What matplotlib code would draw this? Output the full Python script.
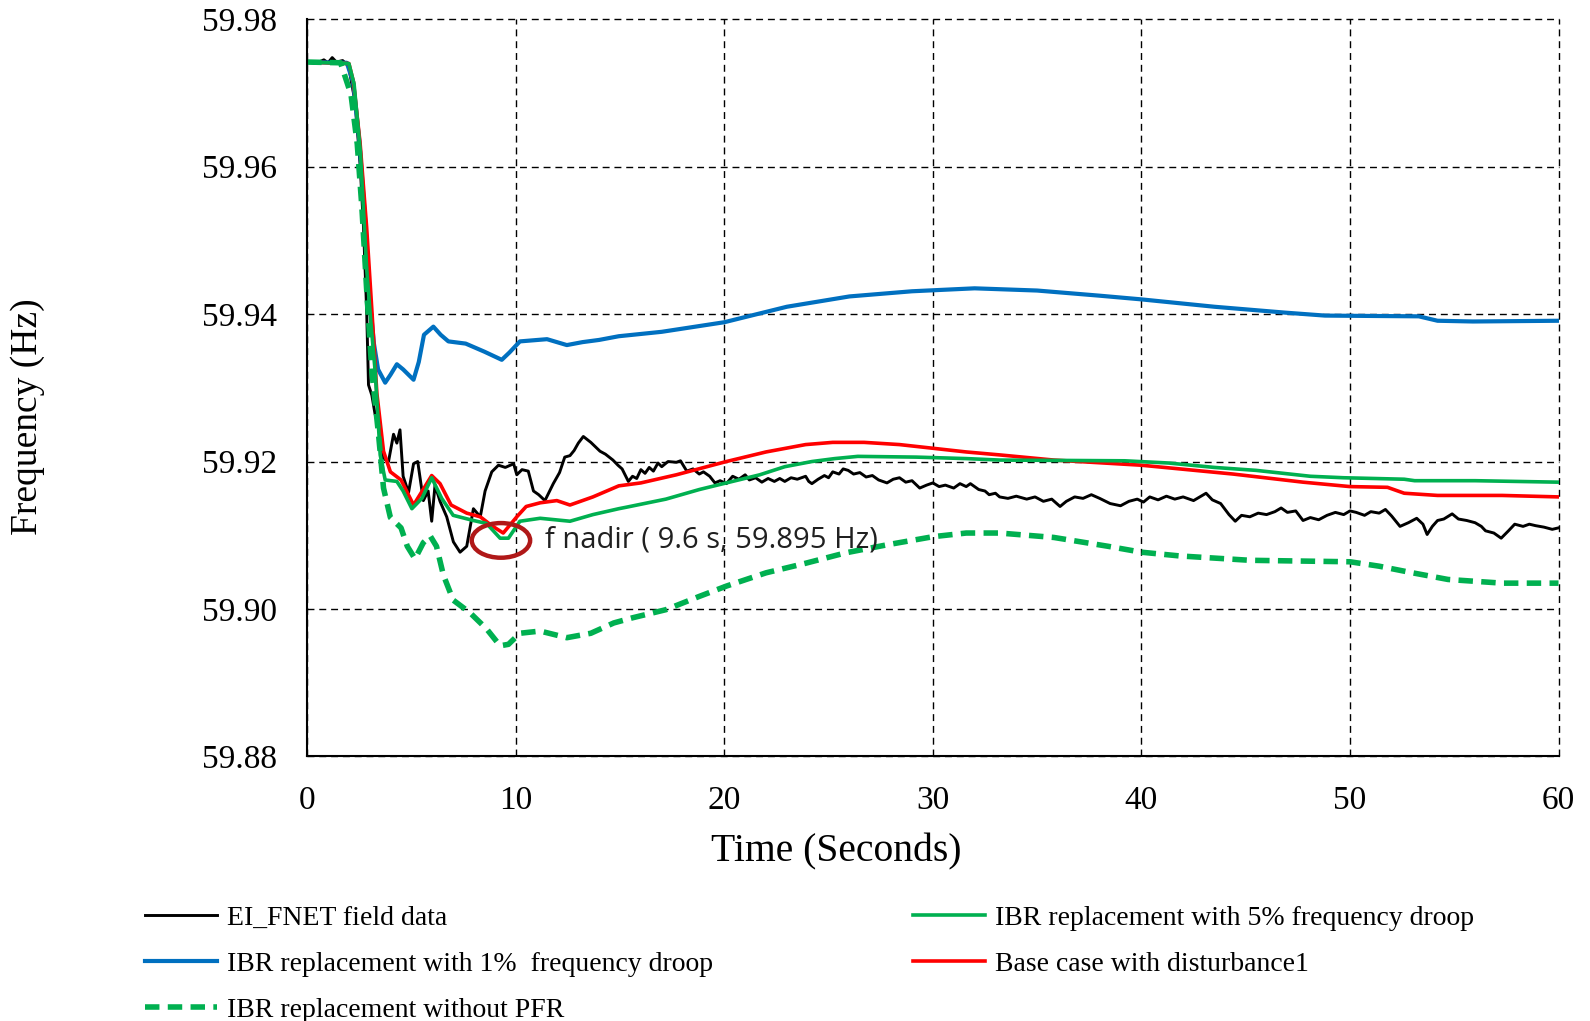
import matplotlib
matplotlib.use("Agg")
import matplotlib.pyplot as plt
from matplotlib.patches import Ellipse

# EI_FNET field data
t_fnet = [0, 0.4, 0.8, 1.0, 1.2, 1.4, 1.7, 1.98, 2.3, 2.54, 2.70, 2.85, 2.94, 3.1, 3.25,
          3.42, 3.66, 3.9, 4.14, 4.3, 4.45, 4.6, 4.86, 5.1, 5.3, 5.57, 5.8, 5.97, 6.13,
          6.37, 6.69, 7.01, 7.33, 7.65, 7.97, 8.3, 8.53, 8.85, 9.17, 9.5, 9.9, 10.05,
          10.3, 10.6, 10.85, 11.1, 11.4, 11.8, 12.1, 12.35, 12.6, 12.8, 13.0, 13.24, 13.6,
          14.04, 14.3, 14.66, 14.9, 15.1, 15.4, 15.6, 15.8, 16.0, 16.2, 16.4, 16.6, 16.82,
          17.0, 17.3, 17.7, 17.9, 18.2, 18.5, 18.8, 19.0, 19.3, 19.55, 19.8, 20.1, 20.4,
          20.7, 21.0, 21.2, 21.5, 21.8, 22.1, 22.4, 22.66, 22.9, 23.2, 23.5, 23.9, 24.05,
          24.2, 24.5, 24.8, 25.0, 25.2, 25.5, 25.7, 25.94, 26.2, 26.5, 26.8, 27.1, 27.4,
          27.8, 28.1, 28.4, 28.7, 29.0, 29.37, 29.7, 30.0, 30.3, 30.6, 31.0, 31.3, 31.6,
          31.8, 32.2, 32.5, 32.7, 33.0, 33.2, 33.6, 34.0, 34.5, 34.9, 35.3, 35.7, 36.1,
          36.4, 36.8, 37.2, 37.6, 38.0, 38.5, 39.0, 39.4, 39.8, 40.1, 40.4, 40.8, 41.2,
          41.6, 42.0, 42.5, 43.1, 43.4, 43.8, 44.2, 44.5, 44.8, 45.2, 45.6, 46.0, 46.4,
          46.7, 47.0, 47.4, 47.75, 48.1, 48.5, 48.9, 49.3, 49.7, 50.0, 50.3, 50.7, 51.0,
          51.4, 51.7, 52.0, 52.4, 52.8, 53.2, 53.5, 53.7, 53.95, 54.2, 54.5, 54.9, 55.2,
          55.6, 56.0, 56.3, 56.5, 56.9, 57.25, 57.6, 57.9, 58.3, 58.6, 58.9, 59.3, 59.7,
          60.0]
f_fnet = [59.9742, 59.9740, 59.9745, 59.9741, 59.9748, 59.9742, 59.9744, 59.9737, 59.9687,
          59.9602, 59.9518, 59.9406, 59.9304, 59.9290, 59.9265, 59.9248, 59.9204, 59.9200,
          59.9237, 59.9225, 59.9243, 59.9180, 59.9158, 59.9197, 59.9200, 59.9147, 59.9160,
          59.9119, 59.9168, 59.9146, 59.9125, 59.9091, 59.9077, 59.9085, 59.9136, 59.9125,
          59.9160, 59.9186, 59.9195, 59.9192, 59.9197, 59.9182, 59.9189, 59.9187, 59.9160,
          59.9155, 59.9147, 59.9170, 59.9185, 59.9206, 59.9208, 59.9215, 59.9225, 59.9234,
          59.9226, 59.9214, 59.9210, 59.9202, 59.9195, 59.9190, 59.9173, 59.9180, 59.9177,
          59.9189, 59.9184, 59.9192, 59.9187, 59.9198, 59.9193, 59.9200, 59.9199, 59.9201,
          59.9187, 59.9190, 59.9183, 59.9186, 59.9180, 59.9171, 59.9174, 59.9170, 59.9180,
          59.9176, 59.9182, 59.9175, 59.9178, 59.9172, 59.9177, 59.9173, 59.9177, 59.9173,
          59.9178, 59.9176, 59.9180, 59.9173, 59.9170, 59.9176, 59.9181, 59.9178, 59.9186,
          59.9183, 59.9190, 59.9188, 59.9183, 59.9185, 59.9179, 59.9181, 59.9175, 59.9171,
          59.9176, 59.9178, 59.9172, 59.9174, 59.9164, 59.9168, 59.9171, 59.9166, 59.9168,
          59.9164, 59.9170, 59.9166, 59.9170, 59.9162, 59.9160, 59.9155, 59.9157, 59.9152,
          59.9150, 59.9153, 59.9149, 59.9152, 59.9146, 59.9149, 59.9139, 59.9146, 59.9152,
          59.9150, 59.9155, 59.9150, 59.9143, 59.9140, 59.9146, 59.9149, 59.9145, 59.9152,
          59.9148, 59.9153, 59.9149, 59.9152, 59.9147, 59.9157, 59.9148, 59.9143, 59.9128,
          59.9119, 59.9127, 59.9125, 59.9130, 59.9128, 59.9132, 59.9137, 59.9131, 59.9133,
          59.9120, 59.9124, 59.9121, 59.9127, 59.9131, 59.9128, 59.9133, 59.9131, 59.9127,
          59.9132, 59.9130, 59.9135, 59.9126, 59.9112, 59.9117, 59.9123, 59.9115, 59.9101,
          59.9112, 59.9120, 59.9122, 59.9129, 59.9122, 59.9120, 59.9117, 59.9112, 59.9106,
          59.9103, 59.9096, 59.9106, 59.9115, 59.9112, 59.9115, 59.9113, 59.9111, 59.9108,
          59.9110]

# IBR replacement with 1% droop
t_1pct = [0, 1.9, 2.2, 2.5, 2.8, 3.0, 3.2, 3.4, 3.74, 4.0, 4.3, 4.6, 5.1, 5.35, 5.6, 6.05,
          6.4, 6.77, 7.6, 8.5, 9.33, 9.7, 10.2, 11.5, 12.45, 13.2, 14.0, 14.94, 17.0, 20.0,
          23.0, 26.0, 29.0, 32.0, 35.0, 38.0, 40.0, 43.5, 46.9, 48.8, 53.3, 54.2, 55.9, 60]
f_1pct = [59.9742, 59.9741, 59.9715, 59.9635, 59.9520, 59.9420, 59.9360, 59.9325, 59.9307,
          59.9318, 59.9332, 59.9325, 59.9311, 59.9335, 59.9372, 59.9383, 59.9372, 59.9363,
          59.9360, 59.9349, 59.9338, 59.9348, 59.9363, 59.9366, 59.9358, 59.9362, 59.9365,
          59.9370, 59.9376, 59.9389, 59.9410, 59.9424, 59.9431, 59.9435, 59.9432, 59.9425,
          59.9420, 59.9410, 59.9402, 59.9398, 59.9397, 59.9391, 59.9390, 59.9391]

# Base case with disturbance1
t_base = [0, 2.0, 2.22, 2.54, 2.85, 3.1, 3.34, 3.66, 3.99, 4.5, 5.1, 5.56, 5.97, 6.37, 6.9,
          7.65, 8.3, 8.85, 9.4, 10.05, 10.5, 11.17, 11.97, 12.6, 13.7, 14.94, 16.0, 17.7,
          18.9, 20.1, 22.0, 23.9, 25.2, 26.7, 28.4, 30.0, 31.6, 33.2, 35.8, 40.0, 44.4,
          47.75, 50.0, 51.8, 52.6, 54.2, 57.3, 60]
f_base = [59.9742, 59.9740, 59.9715, 59.9631, 59.9518, 59.9406, 59.9293, 59.9214, 59.9186,
          59.9175, 59.9141, 59.9162, 59.9181, 59.9170, 59.9141, 59.9130, 59.9125, 59.9113,
          59.9103, 59.9125, 59.9139, 59.9144, 59.9147, 59.9141, 59.9152, 59.9167, 59.9171,
          59.9182, 59.9191, 59.9200, 59.9213, 59.9223, 59.9226, 59.9226, 59.9223, 59.9218,
          59.9213, 59.9209, 59.9202, 59.9195, 59.9183, 59.9172, 59.9166, 59.9165, 59.9157,
          59.9154, 59.9154, 59.9152]

# IBR replacement with 5% droop
t_5pct = [0, 2.0, 2.25, 2.55, 2.85, 3.05, 3.26, 3.5, 3.74, 4.3, 4.6, 5.02, 5.5, 5.97, 6.45,
          7.0, 7.97, 8.6, 9.25, 9.65, 10.2, 11.17, 12.6, 13.7, 14.94, 15.3, 17.2, 18.8, 20.1,
          21.7, 22.9, 24.2, 25.3, 26.4, 29.2, 31.6, 33.2, 39.2, 41.3, 43.5, 45.5, 48.1, 49.7,
          52.6, 53.1, 56.0, 60]
f_5pct = [59.9742, 59.9740, 59.9712, 59.9620, 59.9462, 59.9390, 59.9322, 59.9209, 59.9175,
          59.9173, 59.9160, 59.9136, 59.9150, 59.9178, 59.9150, 59.9127, 59.9120, 59.9116,
          59.9096, 59.9096, 59.9119, 59.9123, 59.9119, 59.9128, 59.9136, 59.9138, 59.9149,
          59.9162, 59.9171, 59.9182, 59.9193, 59.9200, 59.9204, 59.9207, 59.9206, 59.9204,
          59.9202, 59.9201, 59.9198, 59.9192, 59.9188, 59.9180, 59.9178, 59.9176, 59.9174,
          59.9174, 59.9172]

# IBR replacement without PFR
t_nopfr = [0, 1.6, 2.1, 2.4, 2.62, 2.85, 3.1, 3.42, 3.66, 3.99, 4.5, 4.8, 5.17, 5.57, 5.9,
           6.2, 6.53, 7.0, 7.8, 8.6, 9.25, 9.65, 10.2, 11.17, 12.45, 13.6, 14.7, 15.6, 17.2,
           18.8, 20.1, 22.0, 23.9, 25.8, 27.8, 30.0, 31.6, 33.2, 35.8, 38.4, 40.0, 41.8,
           45.2, 50.0, 51.4, 53.0, 54.7, 57.3, 60]
f_nopfr = [59.9742, 59.9741, 59.9698, 59.9631, 59.9546, 59.9434, 59.9322, 59.9237, 59.9164,
           59.9124, 59.9110, 59.9085, 59.9068, 59.9090, 59.9099, 59.9085, 59.9046, 59.9012,
           59.8995, 59.8973, 59.8950, 59.8952, 59.8967, 59.8970, 59.8961, 59.8967, 59.8981,
           59.8988, 59.8999, 59.9017, 59.9031, 59.9049, 59.9062, 59.9076, 59.9087, 59.9098,
           59.9103, 59.9103, 59.9097, 59.9085, 59.9077, 59.9072, 59.9066, 59.9064, 59.9058,
           59.9049, 59.9040, 59.9035, 59.9035]

nadir_t, nadir_f = 9.29, 59.9093
nadir_text = "f nadir ( 9.6 s, 59.895 Hz)"

plt.rcParams['font.family'] = ['Liberation Serif', 'DejaVu Serif']

fig = plt.figure(figsize=(15.9, 10.21), dpi=100)
ax = fig.add_axes([0.1932, 0.2592, 0.787, 0.7219])

l_fnet, = ax.plot(t_fnet, f_fnet, color='black', lw=2.1, label='EI_FNET field data')
l_1, = ax.plot(t_1pct, f_1pct, color='#0070C0', lw=3.0,
               label='IBR replacement with 1%  frequency droop')
l_base, = ax.plot(t_base, f_base, color='#FF0000', lw=2.6, label='Base case with disturbance1')
l_5, = ax.plot(t_5pct, f_5pct, color='#00B050', lw=2.6,
               label='IBR replacement with 5% frequency droop')
l_no, = ax.plot(t_nopfr, f_nopfr, color='#00B050', lw=4, dashes=(2.6, 1.5),
                label='IBR replacement without PFR')

ax.add_patch(Ellipse((nadir_t, nadir_f), 2.8, 0.0047, fill=False,
                     edgecolor='#B01818', lw=3.2, zorder=5))
ax.text(11.4, nadir_f, nadir_text, fontsize=21, family=['Open Sans', 'DejaVu Sans'],
        va='center', ha='left', color='#202020', zorder=6)

ax.set_xlim(0, 60)
ax.set_ylim(59.88, 59.98)
ax.set_xticks(range(0, 61, 10))
ax.set_yticks([59.88, 59.90, 59.92, 59.94, 59.96, 59.98])
ax.set_yticklabels(['59.88', '59.90', '59.92', '59.94', '59.96', '59.98'])
ax.tick_params(axis='both', length=0, labelsize=24)
ax.tick_params(axis='y', pad=22)
ax.tick_params(axis='x', pad=21)
ax.grid(True, color='black', linestyle=(0, (5, 3.5)), lw=1.0)
ax.spines['top'].set_visible(False)
ax.spines['right'].set_visible(False)
for s in ['left', 'bottom']:
    ax.spines[s].set_linewidth(1.5)

ax.set_xlabel('Time (Seconds)', fontsize=28.5, va='center')
ax.xaxis.set_label_coords(0.423, -0.129)
ax.set_ylabel('Frequency (Hz)', fontsize=27, va='center', ha='center')
ax.yaxis.set_label_coords(-0.223, 0.461)

leg_kw = dict(frameon=False, fontsize=20, handlelength=2.6, handletextpad=0.36,
              labelspacing=0.74, borderpad=0, borderaxespad=0, loc='upper left')
fig.legend(handles=[l_fnet, l_1, l_no], bbox_to_anchor=(0.0912, 0.113), **leg_kw)
fig.legend(handles=[l_5, l_base], bbox_to_anchor=(0.574, 0.113), **leg_kw)

# grid lines on the frame edges (top / right) should show fully
fig.canvas.draw()
for gl in ax.get_xgridlines() + ax.get_ygridlines():
    gl.set_clip_on(False)

fig.savefig('out.png', dpi=100)
